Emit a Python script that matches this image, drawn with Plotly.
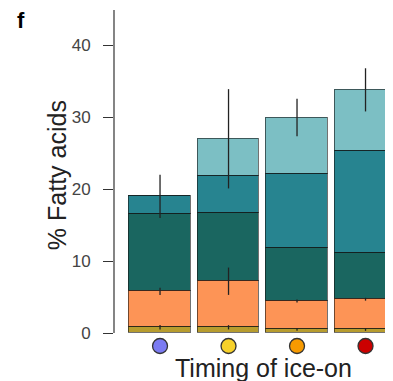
import plotly.graph_objects as go

categories = [0, 1, 2, 3]
layer1 = [0.8, 0.8, 0.5, 0.5]
layer2 = [5.0, 6.4, 3.95, 4.2]
layer3 = [10.8, 9.55, 7.4, 6.4]
layer4 = [2.4, 5.1, 10.3, 14.2]
layer5 = [0.0, 5.15, 7.8, 8.5]
err_layer1 = [0.3, 0.3, 0.2, 0.2]
err_layer2 = [0.5, 1.9, 0.2, 0.2]
err_total = [3.0, 6.9, 2.6, 3.0]
timing_colors = ["#7b7bf2", "#f7d12a", "#f79a00", "#cc0000"]
layer_colors = ["#b79c2e", "#fd9456", "#1a6660", "#278490", "#7cbfc4"]
y_ticks = [0, 10, 20, 30, 40]
y_top = 44.9

layers = [layer1, layer2, layer3, layer4, layer5]
fig = go.Figure()
for vals, col in zip(layers, layer_colors):
    fig.add_trace(go.Bar(x=categories, y=vals, width=0.898,
                         marker=dict(color=col, line=dict(color="rgba(20,20,20,0.6)", width=1.3)),
                         showlegend=False))

cum1 = layer1
cum2 = [a + b for a, b in zip(layer1, layer2)]
total = [sum(v) for v in zip(*layers)]
for ys, es in [(cum1, err_layer1), (cum2, err_layer2), (total, err_total)]:
    fig.add_trace(go.Scatter(x=categories, y=ys, mode="markers",
                             marker=dict(size=1, color="rgba(0,0,0,0)"),
                             error_y=dict(type="data", array=es, symmetric=True, width=0,
                                          thickness=1.3, color="#222"),
                             showlegend=False, hoverinfo="skip"))

fig.add_trace(go.Scatter(x=categories, y=[-1.8] * 4, mode="markers",
                         marker=dict(size=15, color=timing_colors, line=dict(color="#333", width=1.3)),
                         showlegend=False, hoverinfo="skip"))

fig.update_layout(
    width=393, height=373, barmode="stack", bargap=0,
    margin=dict(l=106, r=0, t=2, b=12, autoexpand=False),
    plot_bgcolor="white", paper_bgcolor="white",
    font=dict(family="Liberation Sans, Arial, sans-serif", color="#333"),
    xaxis=dict(range=[-0.672, 3.518], showticklabels=False, showline=False, ticks="",
               showgrid=False, zeroline=False),
    yaxis=dict(range=[-5, y_top], tickvals=y_ticks, ticks="outside", ticklen=10, tickwidth=1.2,
               tickcolor="#333", showline=False,
               showgrid=False, zeroline=False, tickfont=dict(size=17, color="#444"),
               ticklabelstandoff=9),
    shapes=[dict(type="line", xref="paper", yref="y", x0=0, x1=0, y0=0, y1=y_top,
                 line=dict(color="#333", width=1.2))],
    annotations=[
        dict(text="% Fatty acids", textangle=-90, x=-0.1986, y=0.540, xref="paper", yref="paper",
             xanchor="center", yanchor="middle", showarrow=False, font=dict(size=25, color="#222")),
        dict(text="Timing of ice-on", x=0.521, y=0.003, xref="paper", yref="paper",
             xanchor="center", yanchor="middle", showarrow=False, font=dict(size=25, color="#222")),
        dict(text="<b>f</b>", x=-0.324, y=0.972, xref="paper", yref="paper",
             xanchor="center", yanchor="middle", showarrow=False, font=dict(size=22, color="#000")),
    ],
)

fig.write_html("out.html")
